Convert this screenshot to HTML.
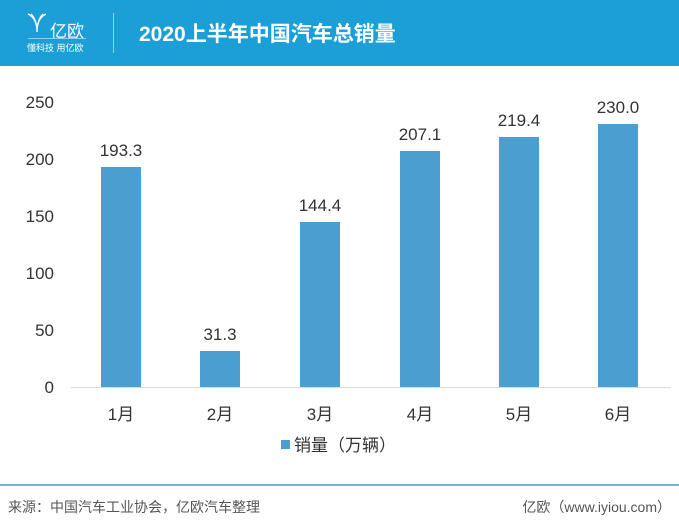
<!DOCTYPE html>
<html><head><meta charset="utf-8"><style>
body{margin:0;width:679px;height:520px;background:#fff;overflow:hidden;font-family:"Liberation Sans","Noto Sans CJK SC",sans-serif;position:relative}
.hdr{position:absolute;left:0;top:0;width:679px;height:66px;background:#1c9fd6}
.t{position:absolute;color:#fff}
</style></head><body>
<div class="hdr">
<svg style="position:absolute;left:26px;top:12px" width="22" height="22" viewBox="0 0 22 22"><path d="M2 2 Q11 6 11 20 M20 2 Q11 6 11 20 M5 2 Q11 8 11 20 M17 2 Q11 8 11 20" stroke="#fff" stroke-width="1.3" fill="none"/></svg>
<div class="t" style="left:50px;top:17px;font-size:17px">亿欧</div>
<div class="t" style="left:27px;top:41px;font-size:9px">懂科技 用亿欧</div>
<div style="position:absolute;left:28px;top:38px;width:58px;height:1px;background:#8fd0ee"></div>
<div style="position:absolute;left:113px;top:13px;width:1px;height:40px;background:#8fd0ee"></div>
<div class="t" style="left:139px;top:18px;font-size:21px;font-weight:bold">2020上半年中国汽车总销量</div>
</div>
<svg style="position:absolute;left:0;top:0" width="679" height="520">
<line x1="71" y1="387.5" x2="671" y2="387.5" stroke="#d9d9d9" stroke-width="1"/>
<g fill="#4a9fd0">
<rect x="101" y="167" width="40" height="220"/>
<rect x="200" y="351" width="40" height="36"/>
<rect x="300" y="222" width="40" height="165"/>
<rect x="400" y="151" width="40" height="236"/>
<rect x="499" y="137" width="40" height="250"/>
<rect x="598" y="124" width="40" height="263"/>
<rect x="281" y="440" width="9" height="9"/>
</g>
<g font-size="17" fill="#333" text-anchor="middle" font-family="Liberation Sans, Noto Sans CJK SC, sans-serif">
<text x="121" y="156">193.3</text><text x="220" y="340">31.3</text><text x="320" y="211">144.4</text>
<text x="420" y="140">207.1</text><text x="519" y="126">219.4</text><text x="618" y="113">230.0</text>
<text x="121" y="420">1月</text><text x="220" y="420">2月</text><text x="320" y="420">3月</text>
<text x="420" y="420">4月</text><text x="519" y="420">5月</text><text x="618" y="420">6月</text>
<g text-anchor="end"><text x="54" y="393">0</text><text x="54" y="336">50</text><text x="54" y="279">100</text><text x="54" y="222">150</text><text x="54" y="165">200</text><text x="54" y="108">250</text></g>
<text x="294" y="451" text-anchor="start">销量（万辆）</text>
</g>
<line x1="0" y1="485" x2="679" y2="485" stroke="#4a9fd0" stroke-width="1.5"/>
<g font-size="14" fill="#555" font-family="Liberation Sans, Noto Sans CJK SC, sans-serif">
<text x="8" y="512">来源：中国汽车工业协会，亿欧汽车整理</text>
<text x="671" y="512" text-anchor="end">亿欧（www.iyiou.com）</text>
</g>
</svg>
</body></html>
